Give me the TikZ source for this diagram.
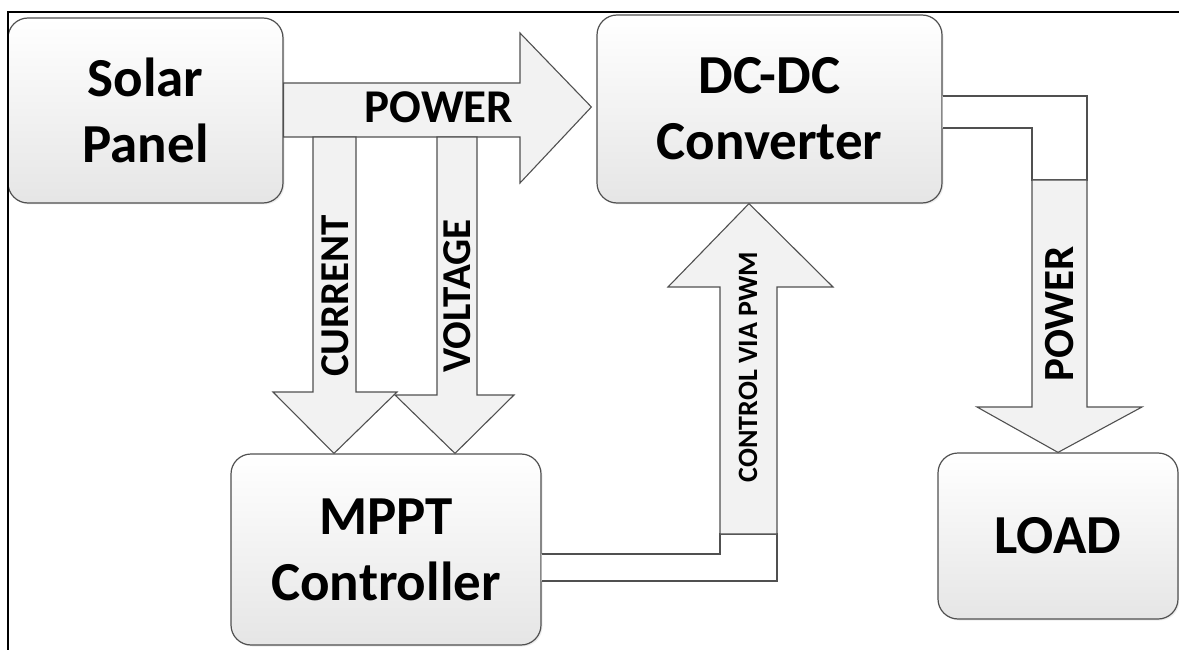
\documentclass[tikz,border=0pt]{standalone}
\usepackage{fontspec}
\setmainfont{Carlito}
\usetikzlibrary{calc,shadows}
\definecolor{linegray}{HTML}{505050}
\definecolor{arrowfill}{HTML}{F2F2F2}
\tikzset{
x=1pt, y=-1pt, % one unit is one pixel of the reference, y grows downwards
block/.style={draw=linegray, line width=1.2pt, rounded corners=20pt, top color=white, bottom color=black!10,
  drop shadow={opacity=0.15, shadow xshift=1.5pt, shadow yshift=-1.5pt},
  font=\bfseries\fontsize{55}{66}\selectfont, align=center}, % the four boxes
flow/.style={draw=linegray, line width=1.1pt, fill=arrowfill, line join=miter}, % the fat arrows
elbow/.style={flow, fill=white}, % bend of a fat arrow
vlabel/.style={rotate=90, font=\bfseries\fontsize{41}{41}\selectfont}, % text along a vertical arrow
}

\begin{document}
\begin{tikzpicture}
    \useasboundingbox (0,0) rectangle (1179,650);
    \node[block, minimum width=275, minimum height=185] at (145.5,110.5) (sp) {Solar\\Panel};
    \node[block, minimum width=345, minimum height=188] at (769.5,109) (conv) {DC-DC\\Converter};
    \node[block, minimum width=310, minimum height=191] at (386,549.5) (mppt) {MPPT\\Controller};
    \node[block, minimum width=240, minimum height=166] at (1058,536) (load) {LOAD};
    % frame
    \draw[line width=2pt] (8,650) -- (8,12) -- (1179,12);
    % arrows
    \draw[flow] (sp.east |- 0,83) -- (520,83) -- (520,33) -- ($(conv.west)+(-5,-2)$)
        -- (520,183) -- (520,137) -- (sp.east |- 0,137) -- cycle;
    \draw[flow] (313,137) -- (313,392) -- (273,392) -- (334,0 |- mppt.north)
        -- (397,392) -- (356,392) -- (356,137) -- cycle;
    \draw[flow] (437,137) -- (437,395) -- (395,395) -- (455,0 |- mppt.north)
        -- (514,395) -- (477,395) -- (477,137) -- cycle;
    \draw[elbow] (mppt.east |- 0,554) -- (720,554) -- (720,534) -- (777,534) -- (777,581)
        -- (mppt.east |- 0,581);
    \draw[flow] (720,534) -- (720,287) -- (668,287) -- (749,0 |- conv.south)
        -- (833,287) -- (777,287) -- (777,534) -- cycle;
    \draw[elbow] (conv.east |- 0,96) -- (1087,96) -- (1087,180) -- (1032,180) -- (1032,128)
        -- (conv.east |- 0,128);
    \draw[flow] (1032,180) -- (1087,180) -- (1087,407) -- (1142,407) -- (load.north)
        -- (977,407) -- (1032,407) -- cycle;
    % labels
    \node[font=\bfseries\fontsize{47}{47}\selectfont] at (439,107) (pw1) {POWER};
    \node[vlabel] at (335,296) (cur) {CURRENT};
    \node[vlabel] at (457,296) (vol) {VOLTAGE};
    \node[rotate=90, font=\bfseries\fontsize{28}{28}\selectfont] at (748,367) (pwm) {CONTROL VIA PWM};
    \node[vlabel, font=\bfseries\fontsize{43}{43}\selectfont] at (1060,314) (pw2) {POWER};
\end{tikzpicture}
\end{document}
